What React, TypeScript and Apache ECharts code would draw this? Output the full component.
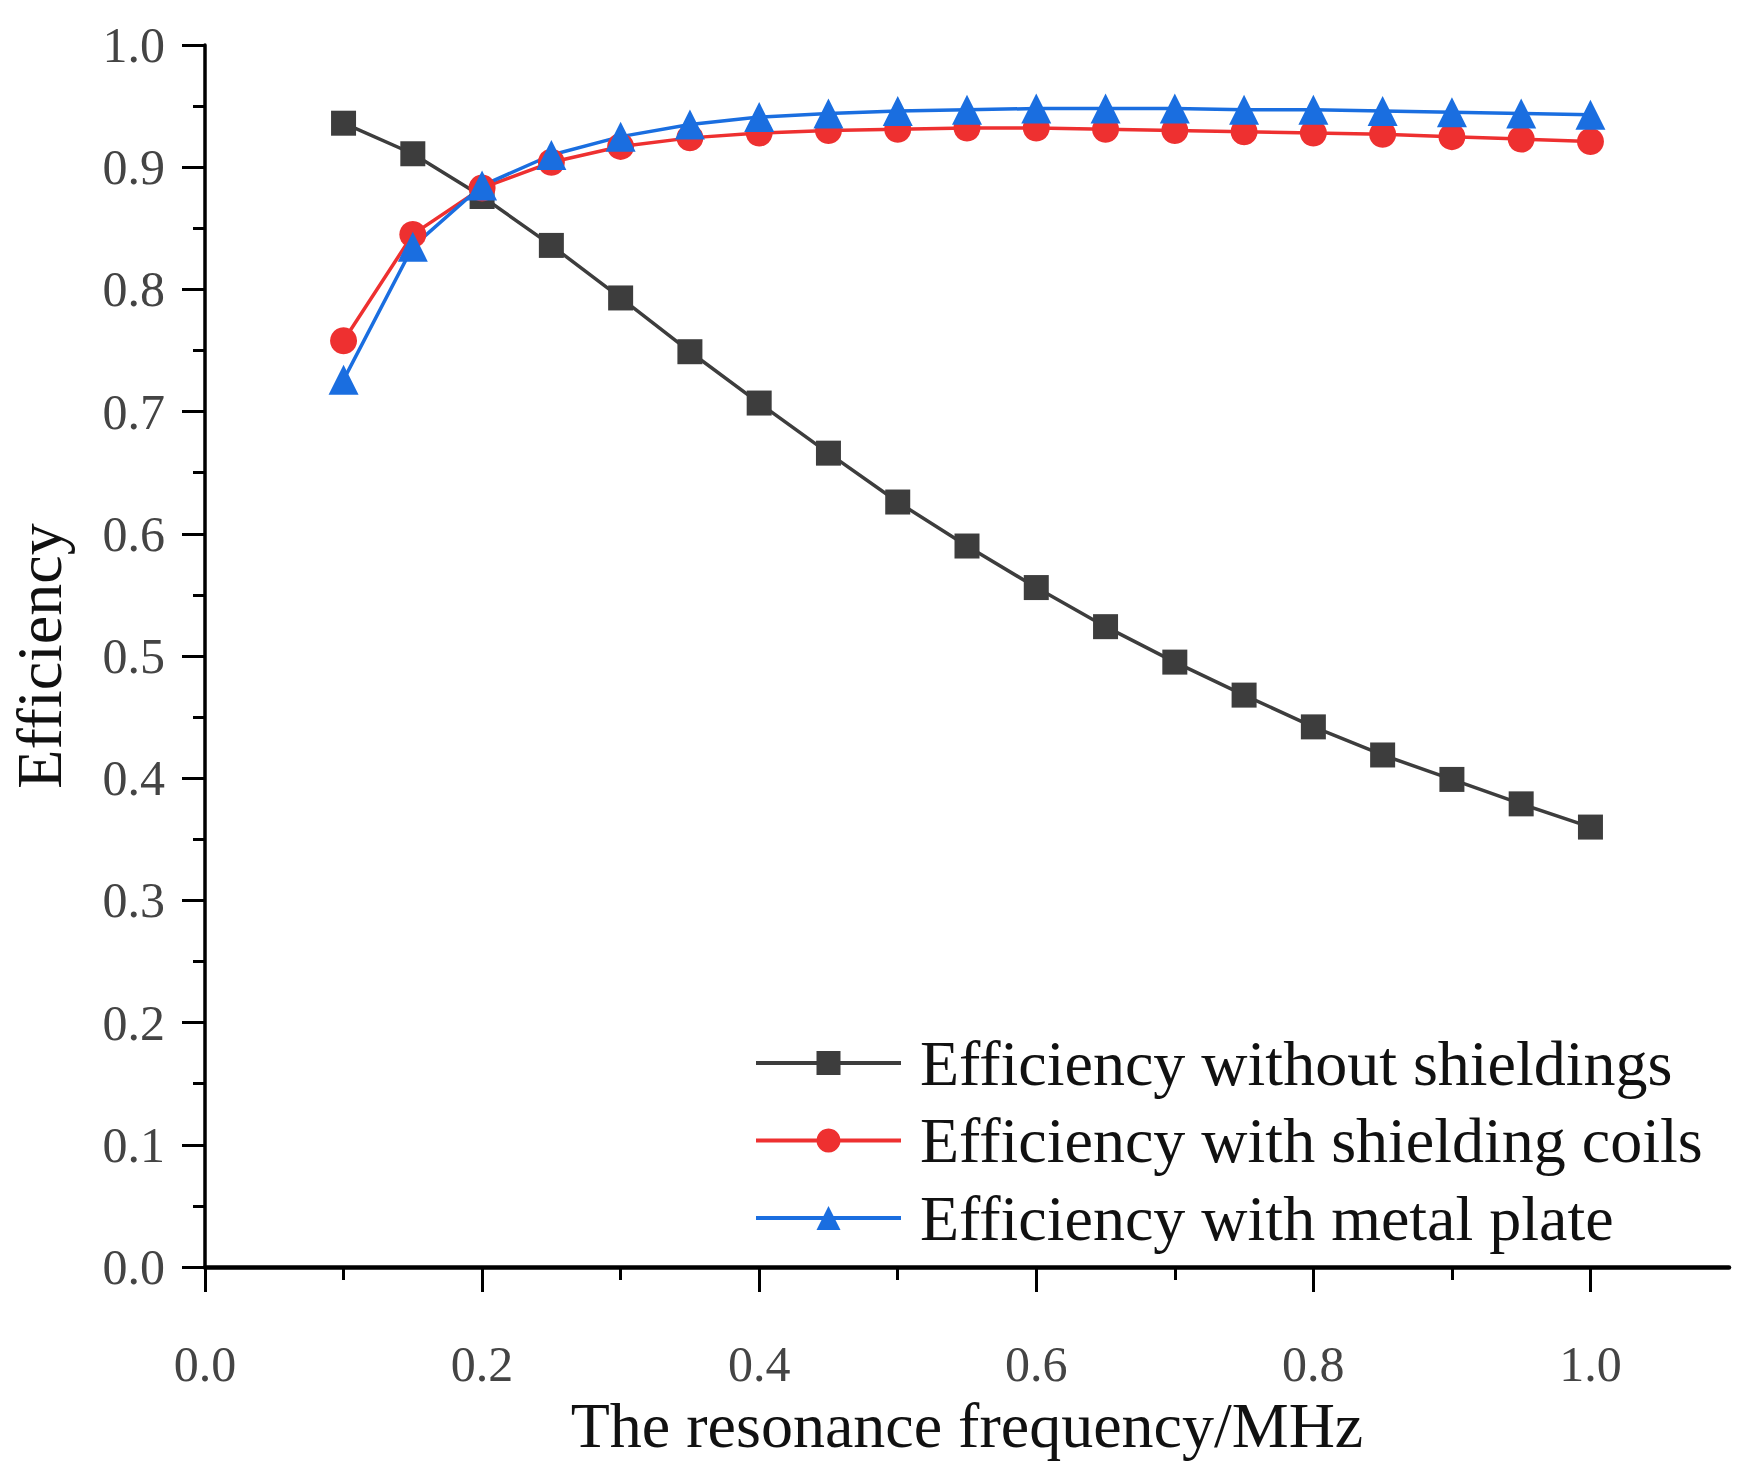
import * as echarts from "echarts";
import { useEffect, useRef } from "react";

// resonance frequency (MHz)
const freqs = [
  0.1, 0.15, 0.2, 0.25, 0.3, 0.35, 0.4, 0.45, 0.5, 0.55, 0.6, 0.65, 0.7, 0.75,
  0.8, 0.85, 0.9, 0.95, 1.0,
];
const noShield = [
  0.936, 0.911, 0.876, 0.836, 0.793, 0.749, 0.707, 0.666, 0.626, 0.59, 0.556,
  0.524, 0.495, 0.468, 0.442, 0.419, 0.399, 0.379, 0.36,
];
const shieldCoils = [
  0.758, 0.845, 0.883, 0.904, 0.917, 0.924, 0.928, 0.93, 0.931, 0.932, 0.932,
  0.931, 0.93, 0.929, 0.928, 0.927, 0.925, 0.923, 0.921,
];
const metalPlate = [
  0.726, 0.835, 0.885, 0.91, 0.925, 0.935, 0.941, 0.944, 0.946, 0.947, 0.948,
  0.948, 0.948, 0.947, 0.947, 0.946, 0.945, 0.944, 0.943,
];
const xMajorTicks = [0, 0.2, 0.4, 0.6, 0.8, 1.0];
const xMinorTicks = [0.1, 0.3, 0.5, 0.7, 0.9];
const seriesNames = [
  "Efficiency without shieldings",
  "Efficiency with shielding coils",
  "Efficiency with metal plate",
];

const FONT = "'Liberation Serif', 'DejaVu Serif', serif";

function zip(xs: number[], ys: number[]) {
  return xs.map((x, i) => [x, ys[i]]);
}

const App = () => {
  const chartRef = useRef<HTMLDivElement>(null);

  useEffect(() => {
    document.body.style.margin = "0";
    const chart = echarts.init(chartRef.current, null, { renderer: "svg" });
    chart.setOption({
      animation: false,
      backgroundColor: "#fff",
      grid: { left: 205, top: 45, right: 24, bottom: 199, outerBoundsMode: "none" },
      legend: {
        orient: "vertical",
        left: 749,
        top: 1026,
        itemWidth: 145,
        itemHeight: 30,
        itemGap: 13.5,
        data: seriesNames,
        lineStyle: { width: 4 },
        textStyle: {
          fontFamily: FONT,
          fontSize: 64,
          color: "#111",
          padding: [0, 0, 0, 14],
        },
      },
      xAxis: [
        {
          type: "value",
          min: 0,
          max: 1.1,
          interval: 0.2,
          name: "The resonance frequency/MHz",
          nameLocation: "middle",
          nameGap: 103,
          nameTextStyle: { fontFamily: FONT, fontSize: 64, color: "#111" },
          axisLine: { show: true, lineStyle: { color: "#000", width: 4.5 } },
          axisTick: {
            show: true,
            length: 25,
            customValues: xMajorTicks,
            lineStyle: { color: "#000", width: 3 },
          },
          axisLabel: {
            customValues: xMajorTicks,
            margin: 72,
            fontFamily: FONT,
            fontSize: 50,
            color: "#444",
            formatter: (v: number) => v.toFixed(1),
          },
          splitLine: { show: false },
        },
        {
          type: "value",
          min: 0,
          max: 1.1,
          position: "bottom",
          axisLine: { show: false },
          axisTick: {
            show: true,
            length: 13,
            customValues: xMinorTicks,
            lineStyle: { color: "#000", width: 3 },
          },
          axisLabel: { show: false },
          splitLine: { show: false },
        },
      ],
      yAxis: {
        type: "value",
        min: 0,
        max: 1,
        interval: 0.1,
        name: "Efficiency",
        nameLocation: "middle",
        nameGap: 134,
        nameTextStyle: { fontFamily: FONT, fontSize: 64, color: "#111" },
        axisLine: { show: true, lineStyle: { color: "#000", width: 3.5 } },
        axisTick: { show: true, length: 23, lineStyle: { color: "#000", width: 3 } },
        minorTick: {
          show: true,
          splitNumber: 2,
          length: 12,
          lineStyle: { color: "#000", width: 3 },
        },
        axisLabel: {
          margin: 40,
          fontFamily: FONT,
          fontSize: 50,
          color: "#444",
          formatter: (v: number) => v.toFixed(1),
        },
        splitLine: { show: false },
      },
      series: [
        {
          name: seriesNames[0],
          type: "line",
          data: zip(freqs, noShield),
          symbol: "rect",
          symbolSize: 25,
          itemStyle: { color: "#3d3d3d" },
          lineStyle: { color: "#3d3d3d", width: 3.5 },
        },
        {
          name: seriesNames[1],
          type: "line",
          data: zip(freqs, shieldCoils),
          symbol: "circle",
          symbolSize: 27,
          itemStyle: { color: "#ee3030" },
          lineStyle: { color: "#ee3030", width: 3.5 },
        },
        {
          name: seriesNames[2],
          type: "line",
          data: zip(freqs, metalPlate),
          symbol: "triangle",
          symbolSize: 30,
          itemStyle: { color: "#1a6ee0" },
          lineStyle: { color: "#1a6ee0", width: 3.5 },
        },
      ],
    });
    return () => {
      chart.dispose();
    };
  }, []);

  return <div ref={chartRef} style={{ width: "1753px", height: "1466px" }}></div>;
};

export default App;
